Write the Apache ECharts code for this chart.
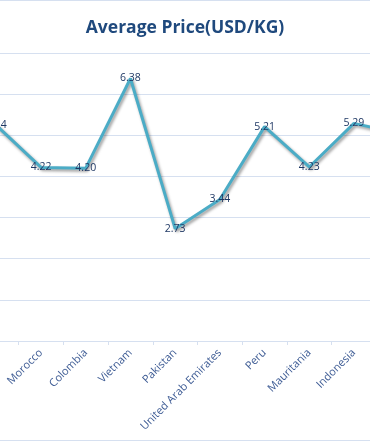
<!DOCTYPE html>
<html>
<head>
<meta charset="utf-8">
<script src="https://cdn.jsdelivr.net/npm/echarts@6/dist/echarts.min.js"></script>
<style>
html,body{margin:0;padding:0;background:#fff;width:370px;height:441px;overflow:hidden;position:relative;}
#c{position:absolute;left:-26px;top:0;width:447px;height:441px;}
</style>
</head>
<body>
<div id="c"></div>
<script>
// Categories (first and last are only partly in view; their names are not visible)
var categories = ['', 'Morocco', 'Colombia', 'Vietnam', 'Pakistan', 'United Arab Emirates', 'Peru', 'Mauritania', 'Indonesia', ''];
var avgPrice = [5.24, 4.22, 4.20, 6.38, 2.73, 3.44, 5.21, 4.23, 5.29, 5.05];
var titleText = 'Average Price(USD/KG)';

var chart = echarts.init(document.getElementById('c'), null, {renderer: 'canvas'});
chart.setOption({
  animation: false,
  backgroundColor: '#ffffff',
  title: {
    text: titleText,
    left: 206,
    textAlign: 'center',
    top: 14,
    textStyle: {fontFamily: 'Open Sans', fontWeight: 'bold', fontSize: 17.5, color: '#1F497D'}
  },
  grid: {left: 0, right: 0, top: 53, bottom: 100, containLabel: false},
  xAxis: {
    type: 'category',
    data: categories,
    boundaryGap: true,
    axisLine: {lineStyle: {color: '#D6E0F0', width: 1}},
    axisTick: {show: true, length: 4, lineStyle: {color: '#D6E0F0'}},
    axisLabel: {interval: 0, rotate: 45, margin: 10, fontFamily: 'Open Sans', fontSize: 11, color: '#3D5B94'},
    splitLine: {show: false}
  },
  yAxis: {
    type: 'value',
    min: 0, max: 7, interval: 1,
    axisLine: {show: false},
    axisTick: {show: false},
    axisLabel: {show: false},
    splitLine: {lineStyle: {color: '#D6E0F0', width: 1}}
  },
  series: [{
    type: 'line',
    data: avgPrice,
    symbol: 'circle',
    symbolSize: 1,
    itemStyle: {color: 'rgba(0,0,0,0)'},
    lineStyle: {color: '#4BACC6', width: 3, shadowColor: 'rgba(0,0,0,0.4)', shadowBlur: 3, shadowOffsetX: 1.5, shadowOffsetY: 2},
    label: {
      show: true, position: 'inside',
      fontFamily: 'Open Sans', fontSize: 10.5, color: '#1F3864',
      formatter: function (p) { return p.value.toFixed(2); }
    },
    emphasis: {disabled: true}
  }],
  graphic: [
    {type: 'line', shape: {x1: 0, y1: 0.5, x2: 447, y2: 0.5}, style: {stroke: '#D6E0F0', lineWidth: 1}},
    {type: 'line', shape: {x1: 0, y1: 440.5, x2: 447, y2: 440.5}, style: {stroke: '#D6E0F0', lineWidth: 1}}
  ]
});
</script>
</body>
</html>
